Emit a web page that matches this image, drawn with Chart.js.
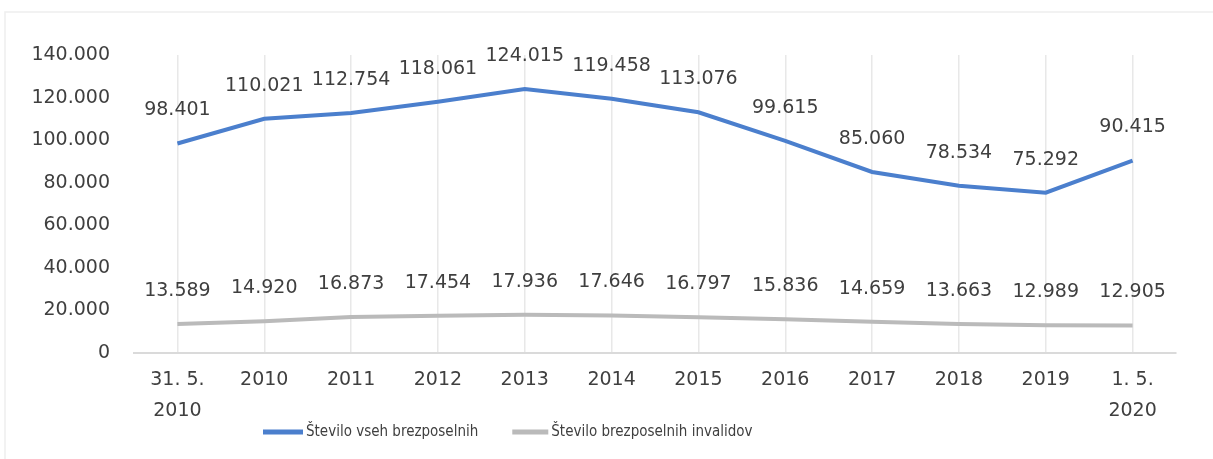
<!DOCTYPE html>
<html>
<head>
<meta charset="utf-8">
<script src="https://cdn.jsdelivr.net/npm/chart.js@4"></script>
<style>
    html, body { margin: 0; padding: 0; background: #ffffff; }
    #wrap { width: 1213px; height: 459px; position: relative; }
</style>
</head>
<body>
<div id="wrap"><canvas id="chart-lines"></canvas></div>
<script>
const categories = [['31. 5.', '2010'], '2010', '2011', '2012', '2013', '2014', '2015', '2016', '2017', '2018', '2019', ['1. 5.', '2020']];
const allUnemployed = [98401, 110021, 112754, 118061, 124015, 119458, 113076, 99615, 85060, 78534, 75292, 90415];
const disabledUnemployed = [13589, 14920, 16873, 17454, 17936, 17646, 16797, 15836, 14659, 13663, 12989, 12905];
const seriesNames = ['Število vseh brezposelnih', 'Število brezposelnih invalidov'];
const yMin = 0;
const yMax = 140000;
const yStep = 20000;

const TEXT_COLOR = '#3f3f3f';
const BLUE = '#4b7fcd';
const GRAY = '#bababa';
const NUM_FONT = '"DejaVu Sans"';

function formatNum(v) {
    return String(v).replace(/\B(?=(\d{3})+(?!\d))/g, '.');
}

// faint chart frame (top + left edge visible in the scan)
const frame = {
    id: 'frame',
    beforeDraw(chart) {
        const c = chart.ctx;
        c.save();
        c.strokeStyle = '#eeeeee';
        c.lineWidth = 1.5;
        c.beginPath();
        c.moveTo(5, chart.height);
        c.lineTo(5, 12);
        c.lineTo(chart.width, 12);
        c.stroke();
        c.restore();
    }
};

// value above each point, like the excel data labels
const valueLabels = {
    id: 'valueLabels',
    afterDatasetsDraw(chart) {
        const c = chart.ctx;
        c.save();
        c.font = '19px ' + NUM_FONT;
        c.fillStyle = TEXT_COLOR;
        c.textAlign = 'center';
        c.textBaseline = 'middle';
        chart.data.datasets.forEach((ds, i) => {
            chart.getDatasetMeta(i).data.forEach((pt, j) => {
                c.fillText(formatNum(ds.data[j]), pt.x, pt.y - 33);
            });
        });
        c.restore();
    }
};

// legend drawn by hand, it sits left of centre in the original
const lineLegend = {
    id: 'lineLegend',
    afterDraw(chart) {
        const c = chart.ctx;
        const y = 432;
        let x = chart.chartArea.left + 129;
        c.save();
        c.font = '15px "DejaVu Sans Condensed", "DejaVu Sans"';
        c.textBaseline = 'middle';
        chart.data.datasets.forEach((ds, i) => {
            const sample = i === 0 ? 40 : 36;
            c.strokeStyle = ds.borderColor;
            c.lineWidth = 5;
            c.beginPath();
            c.moveTo(x, y);
            c.lineTo(x + sample, y);
            c.stroke();
            x += sample + 3;
            c.fillStyle = TEXT_COLOR;
            c.fillText(ds.label, x, y);
            x += c.measureText(ds.label).width + 34;
        });
        c.restore();
    }
};

const ctx = document.getElementById('chart-lines');

new Chart(ctx, {
    type: 'line',
    data: {
        labels: categories,
        datasets: [{
            label: seriesNames[0],
            data: allUnemployed,
            borderColor: BLUE,
            backgroundColor: BLUE,
            borderWidth: 4,
            pointRadius: 0,
            tension: 0
        }, {
            label: seriesNames[1],
            data: disabledUnemployed,
            borderColor: GRAY,
            backgroundColor: GRAY,
            borderWidth: 4,
            pointRadius: 0,
            tension: 0
        }]
    },
    options: {
        responsive: true,
        maintainAspectRatio: false,
        animation: false,
        layout: {
            padding: { top: 55, right: 37, left: 0, bottom: 0 }
        },
        plugins: {
            tooltip: { enabled: false },
            legend: { display: false }
        },
        scales: {
            x: {
                offset: true,
                grid: {
                    display: true,
                    color: '#e8e8e8',
                    lineWidth: 1.5,
                    drawTicks: false
                },
                border: { display: true, color: '#dadada', width: 2 },
                afterFit(scale) { scale.height = 106; },
                ticks: {
                    color: TEXT_COLOR,
                    font: { family: NUM_FONT, size: 19, lineHeight: 1.6 },
                    maxRotation: 0,
                    autoSkip: false,
                    padding: 12
                }
            },
            y: {
                min: yMin,
                max: yMax,
                grid: { display: false },
                border: { display: false },
                afterFit(scale) { scale.width = 134; },
                ticks: {
                    stepSize: yStep,
                    color: TEXT_COLOR,
                    padding: 16,
                    font: { family: NUM_FONT, size: 19 },
                    callback: v => formatNum(v)
                }
            }
        }
    },
    plugins: [frame, valueLabels, lineLegend]
});
</script>
</body>
</html>
